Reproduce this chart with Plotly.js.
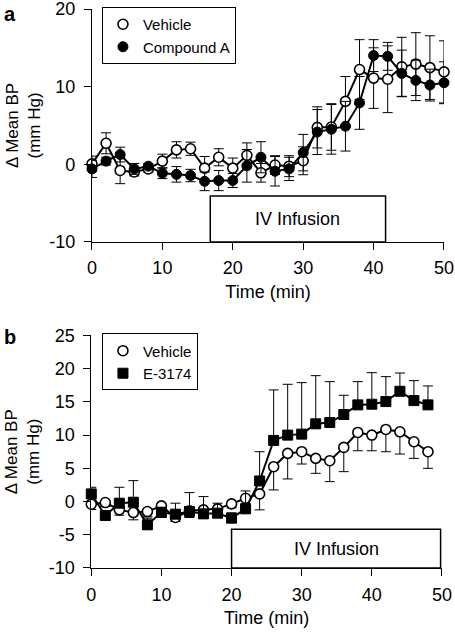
<!DOCTYPE html>
<html>
<head>
<meta charset="utf-8">
<script src="https://cdn.plot.ly/plotly-3.0.1.min.js"></script>
<style>html,body{margin:0;padding:0;background:#fff;}#chart{width:455px;height:632px;}</style>
</head>
<body>
<div id="chart"></div>
<script>
// ---------- Panel a data ----------
const timeA = [0,2,4,6,8,10,12,14,16,18,20,22,24,26,28,30,32,34,36,38,40,42,44,46,48,50];
const vehicleA = [0.05,2.7,-0.8,-1.0,-0.6,0.4,1.85,2.0,-0.5,0.9,-0.5,1.15,-1.1,-0.1,-0.25,0.45,4.75,4.8,8.1,12.2,11.1,10.95,12.55,12.9,12.45,11.9];
const vehicleAErr = [1.0,1.35,1.7,0.5,0.4,0.9,1.05,0.85,1.5,1.1,1.3,1.6,1.2,1.2,1.35,1.8,2.65,3.0,3.2,3.85,3.9,4.3,3.8,4.05,4.1,4.0];
const compoundA = [-0.6,0.4,1.25,-0.6,-0.25,-1.15,-1.3,-1.45,-2.2,-2.1,-2.1,-0.2,0.9,-0.9,-0.6,1.5,4.15,4.5,4.9,7.9,14.0,13.9,11.7,10.8,10.2,10.5];
const compoundAErr = [1.1,0.5,0.95,0.7,0.35,0.7,1.0,0.8,1.2,1.3,0.9,2.1,2.0,1.9,1.5,2.35,2.9,3.2,3.2,3.4,2.05,1.8,3.0,2.6,2.05,2.7];
const infusionA = [16.8, 41.7];

// ---------- Panel b data ----------
const timeB = [0,2,4,6,8,10,12,14,16,18,20,22,24,26,28,30,32,34,36,38,40,42,44,46,48];
const vehicleB = [-0.4,-0.15,-1.25,-1.65,-1.5,-0.65,-2.4,-1.4,-1.25,-1.1,-0.35,0.5,1.15,5.25,7.25,7.5,6.5,6.15,8.15,10.4,10.0,10.85,10.5,9.0,7.5];
const vehicleBErrDown = [0.8,0.6,0.8,1.1,0.8,0.6,0.6,1.0,1.2,0.8,0.6,0.8,2.4,3.5,3.85,1.85,2.25,3.15,3.65,2.75,2.35,3.35,3.35,2.5,2.5];
const e3174B = [1.15,-2.1,-0.25,-0.1,-3.5,-1.65,-1.9,-1.5,-1.85,-1.75,-2.5,-1.1,3.1,9.2,10.0,10.15,11.7,11.9,13.1,14.55,14.65,15.05,16.6,15.2,14.55];
const e3174BErrUp = [1.0,0.6,2.4,3.25,1.0,0.8,1.65,2.85,2.6,1.5,0.8,2.7,4.4,7.6,7.65,7.75,7.25,6.15,2.9,3.5,4.75,3.75,2.75,3.0,2.85];
const infusionB = [20, 49.8];

// ---------- Tick labels ----------
const xTicks = [0,10,20,30,40,50];
const xTickText = ['0','10','20','30','40','50'];
const yTicksA = [-10,0,10,20];
const yTickTextA = ['-10','0','10','20'];
const yTicksB = [-10,-5,0,5,10,15,20,25];
const yTickTextB = ['-10','-5','0','5','10','15','20','25'];

const FONT = 'Liberation Sans, Arial, Helvetica, sans-serif';
const zerosB = timeB.map(() => 0);

function errSym(arr){ return {type:'data', array:arr, visible:true, color:'#000', thickness:1, width:5}; }
function errAsym(up, down){ return {type:'data', symmetric:false, array:up, arrayminus:down, visible:true, color:'#000', thickness:1, width:5}; }

function openMarker(){ return {symbol:'circle', size:10, color:'#fff', line:{color:'#000', width:1.6}}; }
function filledMarker(){ return {symbol:'circle', size:10, color:'#000', line:{color:'#000', width:1}}; }
function squareMarker(){ return {symbol:'square', size:10, color:'#000', line:{color:'#000', width:1}}; }
function lineStyle(){ return {color:'#000', width:2}; }

const traces = [
  {x:timeA, y:vehicleA, error_y:errSym(vehicleAErr), mode:'lines+markers', line:lineStyle(), marker:openMarker(), xaxis:'x', yaxis:'y', showlegend:false, cliponaxis:false},
  {x:timeA, y:compoundA, error_y:errSym(compoundAErr), mode:'lines+markers', line:lineStyle(), marker:filledMarker(), xaxis:'x', yaxis:'y', showlegend:false, cliponaxis:false},
  {x:[null], y:[null], name:'Vehicle', mode:'markers', marker:openMarker(), xaxis:'x', yaxis:'y', legend:'legend'},
  {x:[null], y:[null], name:'Compound A', mode:'markers', marker:filledMarker(), xaxis:'x', yaxis:'y', legend:'legend'},

  {x:timeB, y:vehicleB, error_y:errAsym(zerosB, vehicleBErrDown), mode:'lines+markers', line:lineStyle(), marker:openMarker(), xaxis:'x2', yaxis:'y2', showlegend:false, cliponaxis:false},
  {x:timeB, y:e3174B, error_y:errAsym(e3174BErrUp, zerosB), mode:'lines+markers', line:lineStyle(), marker:squareMarker(), xaxis:'x2', yaxis:'y2', showlegend:false, cliponaxis:false},
  {x:[null], y:[null], name:'Vehicle', mode:'markers', marker:openMarker(), xaxis:'x2', yaxis:'y2', legend:'legend2'},
  {x:[null], y:[null], name:'E-3174', mode:'markers', marker:squareMarker(), xaxis:'x2', yaxis:'y2', legend:'legend2'}
];

function tickFont(){ return {family:FONT, size:18, color:'#000'}; }
function xAxis(domain, anchor){
  return {domain:domain, anchor:anchor, range:[0,50], tickvals:xTicks, ticktext:xTickText, ticks:'outside', ticklen:7, tickwidth:1, tickcolor:'#000',
    showline:true, linecolor:'#000', linewidth:1, showgrid:false, zeroline:false, tickfont:tickFont(), ticklabelstandoff:3, ticklabeloverflow:'allow',
    title:{text:'Time (min)', standoff:7, font:{family:FONT, size:18, color:'#000'}}};
}
function yAxis(domain, anchor, range, ticks, text){
  return {domain:domain, anchor:anchor, range:range, tickvals:ticks, ticktext:text, ticks:'outside', ticklen:7, tickwidth:1, tickcolor:'#000',
    showline:true, linecolor:'#000', linewidth:1, showgrid:false, zeroline:false, tickfont:tickFont(), ticklabelstandoff:5, ticklabeloverflow:'allow',
    title:{text:'Δ Mean BP<br>(mm Hg)', standoff:4, font:{family:FONT, size:17, color:'#000'}}};
}

function legendBase(x, y){
  return {x:x, y:y, bordercolor:'#000', borderwidth:1, bgcolor:'#fff', font:{family:FONT, size:15, color:'#000', weight:'normal'}, xanchor:'left', yanchor:'top', tracegroupgap:0, itemwidth:30};
}

const layout = {
  width:455, height:632,
  margin:{l:91, r:11, t:8, b:64},
  paper_bgcolor:'#fff', plot_bgcolor:'#fff',
  showlegend:true,
  xaxis: xAxis([0.0028,1], 'y'),
  yaxis: yAxis([0.5834,1], 'x', [-10,20], yTicksA, yTickTextA),
  xaxis2: xAxis([0.0008,0.9943], 'y2'),
  yaxis2: yAxis([0,0.416], 'x2', [-10,25], yTicksB, yTickTextB),
  legend: legendBase(0.031, 1.0018),
  legend2: legendBase(0.031, 0.4188),
  shapes:[
    {type:'rect', xref:'x', yref:'y', x0:infusionA[0], x1:infusionA[1], y0:-10, y1:-4.1, line:{color:'#000', width:1.5}, fillcolor:'rgba(0,0,0,0)'},
    {type:'rect', xref:'x2', yref:'y2', x0:infusionB[0], x1:infusionB[1], y0:-10, y1:-4.15, line:{color:'#000', width:1.5}, fillcolor:'rgba(0,0,0,0)'}
  ],
  annotations:[
    {text:'IV Infusion', xref:'x', yref:'y', x:(infusionA[0]+infusionA[1])/2, y:-7.05, showarrow:false, font:{family:FONT, size:18, color:'#000'}},
    {text:'IV Infusion', xref:'x2', yref:'y2', x:(infusionB[0]+infusionB[1])/2, y:-7.1, showarrow:false, font:{family:FONT, size:18, color:'#000'}},
    {text:'<b>a</b>', xref:'paper', yref:'paper', x:-0.252, y:1.0143, xanchor:'left', yanchor:'top', showarrow:false, font:{family:FONT, size:20, color:'#000'}},
    {text:'<b>b</b>', xref:'paper', yref:'paper', x:-0.252, y:0.4357, xanchor:'left', yanchor:'top', showarrow:false, font:{family:FONT, size:20, color:'#000'}}
  ]
};

Plotly.newPlot('chart', traces, layout, {staticPlot:true, displayModeBar:false});
</script>
</body>
</html>
